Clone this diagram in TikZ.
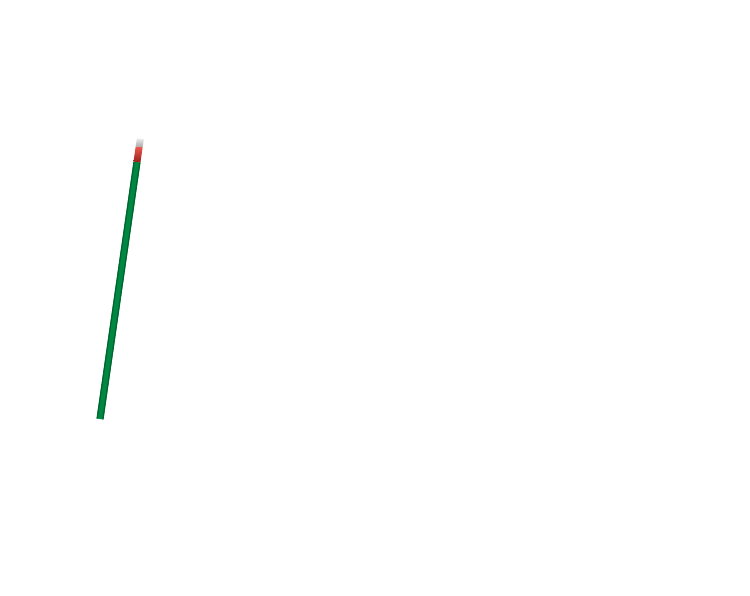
\documentclass[tikz,border=0pt]{standalone}
\definecolor{barG}{RGB}{0,135,65}
\definecolor{barGd}{RGB}{0,100,48}
\definecolor{barR}{RGB}{235,60,50}
\definecolor{barRd}{RGB}{150,30,25}
\tikzset{
  greenpart/.style={fill=barG},
  greenedge/.style={draw=barGd, line width=1.2pt},
  redpart/.style={top color=barR!85!white, bottom color=barRd},
  greypart/.style={top color=gray!15, bottom color=gray!70}
}
\begin{document}
\begin{tikzpicture}[x=1pt,y=1pt]
\useasboundingbox (0,0) rectangle (750,595);
\begin{scope}[shift={(100,176)}, rotate=-8.19]
  \path[greenpart] (-3.5,0) rectangle (3.5,259.6);
  \path[greenedge] (-2.9,0) -- (-2.9,259.6);
  \path[greenedge] (2.9,0) -- (2.9,259.6);
  \path[redpart] (-3.5,259.6) rectangle (3.5,275);
  \path[greypart] (-3.5,275) rectangle (3.5,283);
\end{scope}
\end{tikzpicture}
\end{document}
